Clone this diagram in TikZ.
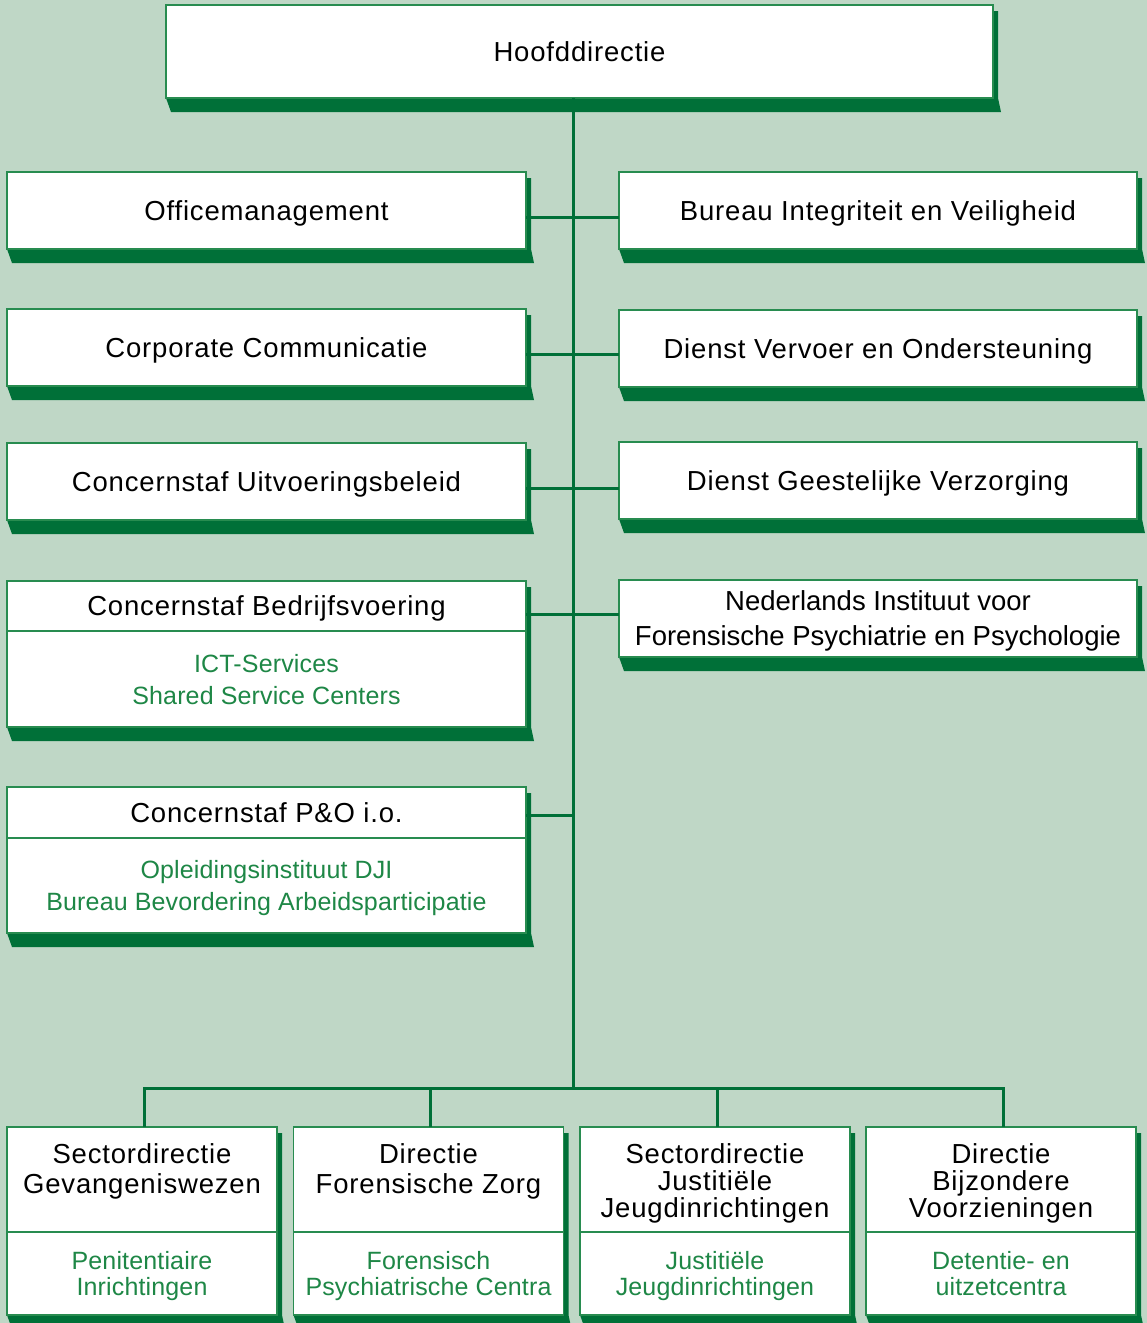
\documentclass[tikz,border=0pt]{standalone}
\usepackage{fontspec}
\setmainfont{Liberation Sans}
\newfontfamily\titlefont[LetterSpace=3]{Liberation Sans}
\newfontfamily\subfont[LetterSpace=0.6]{Liberation Sans}
\usetikzlibrary{positioning,calc,backgrounds}
\definecolor{bgmint}{RGB}{191,215,198}
\definecolor{dkgreen}{RGB}{0,112,56}
\definecolor{boxline}{RGB}{40,140,80}
\definecolor{subgreen}{RGB}{30,135,70}
\tikzset{%
  orgbox/.style    = {shape=rectangle, draw=boxline, line width=1.2pt,%
                      fill=white, inner sep=0pt, outer sep=0pt, align=center},%
  unit/.style      = {orgbox, minimum width=519pt, minimum height=77pt, text depth=0pt,%
                      font=\titlefont\fontsize{27.5}{35}\selectfont},%
  head/.style      = {unit, minimum width=827pt, minimum height=93pt},%
  subunit/.style   = {orgbox, minimum width=519pt, text=subgreen, text depth=0pt,%
                      font=\subfont\fontsize{25}{32}\selectfont},%
  sector/.style    = {orgbox, minimum width=270pt, minimum height=105pt},%
  sectorsub/.style = {orgbox, minimum width=270pt, minimum height=83pt, text depth=0pt,%
                      text=subgreen, font=\subfont\fontsize{25}{26}\selectfont},%
  sectortxt/.style = {inner sep=0pt, align=center,%
                      font=\titlefont\fontsize{27.5}{#1}\selectfont},%
  link/.style      = {draw=dkgreen, line width=3pt}%
}
\begin{document}
\begin{tikzpicture}[x=1pt,y=-1pt]
	\useasboundingbox (0,0) rectangle (1147,1323);
	% top
	\node[head] (hoofd) at (579.5,51.5) {Hoofddirectie};
	% staff, left
	\node[unit] (office)  at (266.5,210.5) {Officemanagement};
	\node[unit] (corpcom) at (266.5,347.5) {Corporate Communicatie};
	\node[unit] (uitvoer) at (266.5,481.5) {Concernstaf Uitvoeringsbeleid};
	\node[unit, minimum height=50pt] (bedrijf) at (266.5,606) {Concernstaf Bedrijfsvoering};
	\node[subunit, minimum height=96pt, below=0pt of bedrijf] (bedrijfsub)
		{ICT-Services\\Shared Service Centers};
	\node[unit, minimum height=51pt] (peno) at (266.5,812.5) {Concernstaf P\&O i.o.};
	\node[subunit, minimum height=95pt, below=0pt of peno] (penosub)
		{Opleidingsinstituut DJI\\Bureau Bevordering Arbeidsparticipatie};
	% staff, right
	\node[unit, minimum width=518pt] (integr)  at (878,210.5) {Bureau Integriteit en Veiligheid};
	\node[unit, minimum width=518pt] (vervoer) at (878,348.5) {Dienst Vervoer en Ondersteuning};
	\node[unit, minimum width=518pt] (geest)   at (878,480.5) {Dienst Geestelijke Verzorging};
	\node[unit, minimum width=518pt, font=\fontsize{27.5}{35}\selectfont] (nifp) at (878,618.5)
		{Nederlands Instituut voor\\Forensische Psychiatrie en Psychologie};
	% sectors
	\node[sector] (gw) at (142,1179.5) {};
	\node[sectorsub, below=0pt of gw] (gwsub) {Penitentiaire\\Inrichtingen};
	\node[sectortxt=30, below=16pt of gw.north] (gwtxt) {Sectordirectie\\Gevangeniswezen};
	\node[sector] (fz) at (428.5,1179.5) {};
	\node[sectorsub, below=0pt of fz] (fzsub) {Forensisch\\Psychiatrische Centra};
	\node[sectortxt=30, below=16pt of fz.north] (fztxt) {Directie\\Forensische Zorg};
	\node[sector] (jj) at (715,1179.5) {};
	\node[sectorsub, below=0pt of jj] (jjsub) {Justitiële\\Jeugdinrichtingen};
	\node[sectortxt=27, below=16pt of jj.north] (jjtxt) {Sectordirectie\\Justitiële\\Jeugdinrichtingen};
	\node[sector] (bv) at (1001,1179.5) {};
	\node[sectorsub, below=0pt of bv] (bvsub) {Detentie- en\\uitzetcentra};
	\node[sectortxt=27, below=16pt of bv.north] (bvtxt) {Directie\\Bijzondere\\Voorzieningen};
	% shadows
	\begin{scope}[on background layer]
		\fill[bgmint] (0,0) rectangle (1147,1323);
		\foreach \a/\b in {hoofd/hoofd, office/office, corpcom/corpcom, uitvoer/uitvoer,
				bedrijf/bedrijfsub, peno/penosub, integr/integr, vervoer/vervoer,
				geest/geest, nifp/nifp, gw/gwsub, fz/fzsub, jj/jjsub, bv/bvsub}
			\fill[dkgreen] ($(\a.north east)+(0,6)$) -- ($(\a.north east)+(5,6)$)
				-- ($(\b.south east)+(5,0)$) -- ($(\b.south east)+(8,14)$)
				-- ($(\b.south west)+(5,14)$) -- (\b.south west) -- cycle;
	\end{scope}
	% connectors
	\coordinate (bus) at (573,1088);
	\draw[link] (hoofd.south -| bus) -- (bus);
	\foreach \l/\r in {office/integr, corpcom/vervoer, uitvoer/geest}
		\draw[link] ([yshift=-7pt]\l.east) -- ([yshift=-7pt]\l.east -| \r.west);
	\draw[link] ([yshift=-8pt]bedrijf.east) -- ([yshift=-8pt]bedrijf.east -| nifp.west);
	\draw[link] ([yshift=-3pt]peno.east) -- ([yshift=-3pt]peno.east -| bus);
	\draw[link, line cap=rect] ([xshift=2pt]gw.north |- bus) -- ([xshift=2pt]bv.north |- bus);
	\foreach \n in {gw, fz, jj, bv}
		\draw[link] ([xshift=2pt]\n.north |- bus) -- ([xshift=2pt]\n.north);
\end{tikzpicture}
\end{document}
